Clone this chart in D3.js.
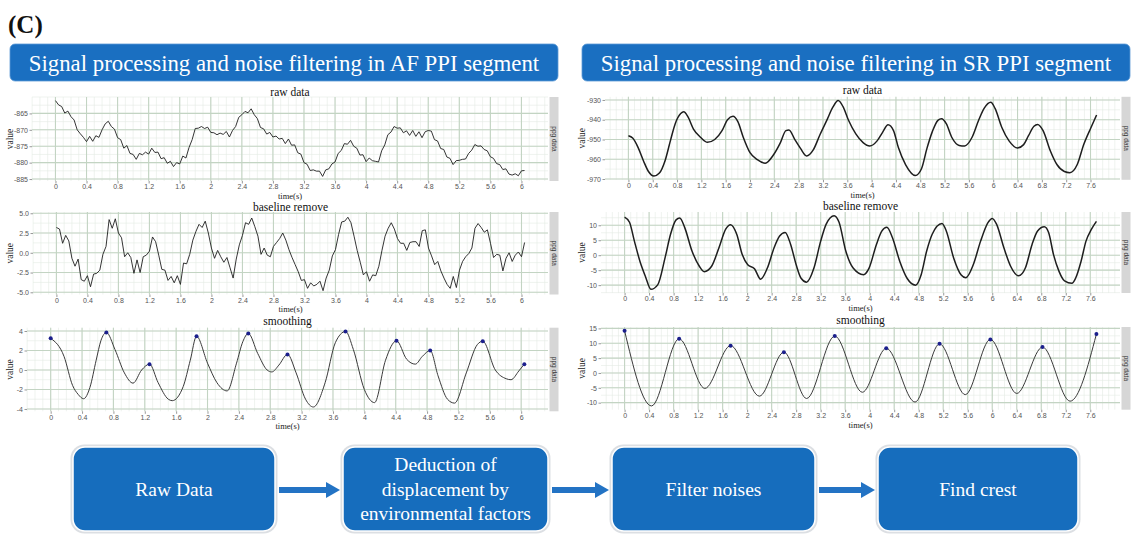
<!DOCTYPE html>
<html>
<head>
<meta charset="utf-8">
<script src="https://cdn.jsdelivr.net/npm/d3@7/dist/d3.min.js"></script>
<style>
  body { margin: 0; background: #fff; }
  svg { display: block; }
</style>
</head>
<body>
<svg id="fig" width="1136" height="538"></svg>
<script>
// ---------- data ----------
const headerTitles = [
  'Signal processing and noise filtering in AF PPI segment',
  'Signal processing and noise filtering in SR PPI segment'
];
const panelTitles = ['raw data', 'baseline remove', 'smoothing'];
const flowSteps = [
  ['Raw Data'],
  ['Deduction of', 'displacement by', 'environmental factors'],
  ['Filter noises'],
  ['Find crest']
];

// AF segment, sampled every 0.04 s
const AF_STEP = 0.04;
const afRaw = [
  -861.1, -862.4, -862.9, -864.9, -864.3, -866.0, -867.0, -870.0, -871.2, -872.3,
  -873.6, -872.0, -873.5, -871.8, -872.3, -870.0, -868.2, -867.4, -869.0, -869.8,
  -872.4, -873.0, -875.6, -874.8, -877.2, -877.5, -879.0, -877.2, -877.6, -876.8,
  -877.4, -875.6, -876.9, -876.8, -878.8, -878.5, -880.2, -879.6, -881.2, -880.0,
  -880.4, -878.0, -878.6, -875.4, -873.0, -869.6, -869.5, -869.0, -869.6, -869.2,
  -870.8, -870.9, -871.5, -871.0, -871.4, -870.5, -872.2, -870.2, -869.0, -866.2,
  -865.4, -864.4, -864.8, -863.6, -865.4, -866.6, -869.3, -869.7, -871.3, -870.8,
  -872.2, -871.9, -872.8, -872.6, -874.2, -872.8, -874.7, -874.6, -877.0, -877.4,
  -880.0, -880.5, -882.4, -882.2, -882.6, -882.6, -884.2, -882.2, -881.9, -880.4,
  -879.8, -877.2, -876.3, -874.2, -874.4, -873.2, -875.0, -875.6, -877.7, -877.6,
  -879.7, -878.6, -879.4, -879.6, -879.8, -876.4, -874.6, -871.5, -870.7, -869.0,
  -869.5, -869.4, -870.9, -870.3, -871.7, -870.2, -872.0, -870.6, -872.4, -870.6,
  -870.2, -870.4, -873.0, -873.4, -875.7, -876.0, -878.3, -878.7, -880.6, -879.4,
  -879.3, -879.0, -878.9, -877.2, -876.2, -874.5, -875.0, -874.9, -876.0, -876.4,
  -878.2, -878.7, -880.3, -880.6, -882.1, -881.9, -883.5, -883.8, -883.4, -884.0,
  -882.5, -882.4
];
const afBase = [
  3.2, 3.0, 1.2, 2.2, 1.5, -0.7, -1.7, -0.8, -3.4, -3.6,
  -2.9, -4.3, -2.7, -2.6, -2.2, -0.2, 0.8, 4.2, 3.1, 4.3,
  2.5, 1.9, -0.5, 0.0, -0.6, -2.6, -0.9, -2.5, -0.5, -0.3,
  0.2, 2.0, 1.4, -0.3, -2.1, -2.2, -3.5, -3.0, -3.8, -2.9,
  -4.0, -1.3, -1.4, -0.2, 1.6, 2.7, 3.6, 3.2, 4.0, 2.5,
  0.6, -0.7, 0.3, -0.5, -1.2, -0.6, -1.9, -3.2, -0.8, 1.0,
  2.2, 3.8, 3.6, 4.4, 3.3, 2.1, -0.2, 0.6, -0.3, -0.5,
  0.8, 1.3, 1.8, 2.5, 1.6, 0.4, -0.6, -1.5, -2.4, -3.5,
  -3.4, -4.5, -3.8, -4.2, -4.0, -3.6, -4.8, -3.2, -2.2, -0.4,
  0.4, 2.3, 3.9, 4.0, 4.5, 3.8, 2.1, 0.3, -1.2, -2.8,
  -2.4, -3.6, -2.8, -2.9, -1.7, 0.3, 2.1, 3.1, 3.8, 3.0,
  1.8, 1.2, 1.2, 0.3, 1.3, 1.4, 1.4, 0.8, 2.8, 2.9,
  0.6, -0.4, -1.5, -1.1, -2.3, -3.2, -4.0, -4.5, -3.0, -4.4,
  -2.2, -1.1, -0.5, -0.1, 0.6, 3.1, 3.7, 3.2, 2.6, 2.9,
  1.2, -0.6, -0.2, -0.3, -2.3, -0.7, 0.0, -1.1, -0.3, 0.1,
  -0.5, 1.3
];
// [time, value]
const afSmooth = [
  [0, 3.25], [0.17, 1.4], [0.28, -1.6], [0.35, -2.5], [0.42, -2.95], [0.5, -1.8],
  [0.58, 1.0], [0.64, 3.0], [0.71, 3.85], [0.82, 2.1], [0.94, -0.3], [1.05, -1.35],
  [1.16, 0.0], [1.26, 0.6], [1.37, -1.3], [1.5, -3.0], [1.55, -3.15], [1.69, -1.7],
  [1.78, 1.0], [1.86, 3.45], [2.0, 0.7], [2.12, -1.3], [2.25, -2.15], [2.37, 0.7],
  [2.45, 2.9], [2.52, 3.75], [2.64, 1.7], [2.76, 0.0], [2.82, -0.2], [2.91, 0.5],
  [3.02, 1.6], [3.13, -0.3], [3.25, -3.0], [3.35, -3.8], [3.5, -1.3], [3.63, 2.8],
  [3.76, 3.95], [3.86, 2.1], [4.0, -2.0], [4.13, -3.35], [4.27, 1.0], [4.41, 3.0],
  [4.54, 1.1], [4.65, 0.6], [4.74, 1.4], [4.84, 2.0], [4.94, -0.6], [5.06, -3.0],
  [5.15, -3.4], [5.3, -0.3], [5.44, 2.6], [5.51, 2.95], [5.67, 0.0], [5.81, -0.9],
  [5.87, -1.0], [5.97, -0.1], [6.04, 0.6]
];
const afCrest = [
  [0, 3.25], [0.71, 3.85], [1.26, 0.6], [1.86, 3.45], [2.52, 3.75], [3.02, 1.6],
  [3.76, 3.95], [4.41, 3.0], [4.84, 2.0], [5.51, 2.95], [6.04, 0.6]
];

// SR segment [time, value]
const srRaw = [
  [0, -948.1], [0.07, -949.3], [0.16, -954.1], [0.25, -961.0], [0.33, -966.2], [0.42, -968.5],
  [0.51, -967.0], [0.6, -961.0], [0.69, -950.7], [0.77, -942.0], [0.86, -936.9], [0.91, -936.0],
  [0.98, -938.6], [1.07, -944.7], [1.19, -949.0], [1.3, -951.4], [1.42, -950.0], [1.54, -945.5],
  [1.63, -940.0], [1.72, -938.3], [1.8, -941.0], [1.89, -949.0], [2.0, -956.7], [2.12, -960.2],
  [2.25, -962.0], [2.39, -957.6], [2.5, -951.6], [2.59, -945.5], [2.64, -945.2], [2.74, -950.2],
  [2.83, -954.5], [2.93, -958.3], [3.04, -955.3], [3.15, -947.6], [3.27, -939.8], [3.36, -933.8],
  [3.45, -930.3], [3.53, -933.4], [3.62, -940.3], [3.74, -947.2], [3.86, -951.6], [3.97, -953.3],
  [4.09, -950.7], [4.18, -946.4], [4.27, -942.6], [4.36, -945.5], [4.44, -954.1], [4.56, -962.8],
  [4.72, -968.2], [4.82, -964.8], [4.91, -954.5], [5.0, -945.9], [5.09, -940.3], [5.15, -939.5],
  [5.23, -942.1], [5.32, -949.0], [5.44, -953.0], [5.53, -953.3], [5.65, -949.0], [5.76, -940.3],
  [5.85, -934.3], [5.96, -931.2], [6.03, -934.3], [6.14, -943.8], [6.26, -950.7], [6.4, -954.3],
  [6.5, -952.6], [6.58, -948.1], [6.67, -943.3], [6.73, -942.4], [6.82, -945.5], [6.94, -955.8],
  [7.05, -962.8], [7.17, -966.2], [7.26, -966.8], [7.38, -962.8], [7.49, -952.4], [7.61, -943.8],
  [7.7, -937.6]
];
const srBase = [
  [0, 12.7], [0.08, 11.0], [0.16, 4.7], [0.25, -2.0], [0.34, -7.1], [0.43, -11.4],
  [0.54, -9.9], [0.66, -0.9], [0.75, 7.0], [0.84, 11.8], [0.9, 12.4], [0.98, 9.3],
  [1.1, 1.4], [1.22, -3.7], [1.3, -5.5], [1.42, -3.7], [1.54, 2.5], [1.65, 8.7],
  [1.73, 10.2], [1.83, 7.0], [1.92, 0.2], [2.01, -3.2], [2.12, -4.5], [2.22, -8.0],
  [2.33, -4.3], [2.44, 2.5], [2.53, 6.4], [2.62, 7.6], [2.71, 3.6], [2.8, -3.2],
  [2.88, -7.7], [2.97, -9.0], [3.09, -4.3], [3.2, 4.7], [3.29, 10.4], [3.42, 13.2],
  [3.5, 11.0], [3.61, 1.4], [3.73, -4.3], [3.9, -6.5], [3.99, -4.3], [4.11, 3.6],
  [4.2, 8.1], [4.28, 9.3], [4.37, 5.9], [4.49, -2.0], [4.61, -7.7], [4.75, -10.0],
  [4.84, -6.5], [4.93, 1.4], [5.02, 7.0], [5.18, 10.6], [5.25, 8.1], [5.37, -0.9],
  [5.49, -6.5], [5.57, -7.5], [5.69, -3.2], [5.81, 4.7], [5.93, 10.9], [6.0, 12.3],
  [6.07, 10.4], [6.19, 2.5], [6.3, -3.7], [6.43, -6.9], [6.54, -4.3], [6.65, 3.6],
  [6.74, 8.1], [6.85, 9.5], [6.92, 7.6], [7.0, 0.2], [7.09, -5.4], [7.18, -8.6],
  [7.3, -9.4], [7.36, -7.7], [7.45, -2.0], [7.53, 4.7], [7.62, 8.7], [7.7, 11.3]
];
const srSmooth = [
  [0, 14.2], [0.44, -11.1], [0.89, 11.5], [1.31, -5.2], [1.73, 9.2], [2.2, -7.8],
  [2.6, 7.0], [2.97, -8.6], [3.43, 12.4], [3.88, -6.5], [4.27, 8.3], [4.74, -9.8],
  [5.14, 9.8], [5.56, -7.3], [5.97, 11.3], [6.4, -6.9], [6.82, 8.7], [7.27, -9.5],
  [7.7, 13.1]
];
const srCrest = [
  [0, 14.2], [0.89, 11.5], [1.73, 9.2], [2.6, 7.0], [3.43, 12.4], [4.27, 8.3],
  [5.14, 9.8], [5.97, 11.3], [6.82, 8.7], [7.7, 13.1]
];

// tick values
const afTicksX = [0, 0.4, 0.8, 1.2, 1.6, 2, 2.4, 2.8, 3.2, 3.6, 4, 4.4, 4.8, 5.2, 5.6, 6];
const srTicksX = [0, 0.4, 0.8, 1.2, 1.6, 2, 2.4, 2.8, 3.2, 3.6, 4, 4.4, 4.8, 5.2, 5.6, 6, 6.4, 6.8, 7.2, 7.6];
const afRawTicksY = [-885, -880, -875, -870, -865];
const afBaseTicksY = [-5, -2.5, 0, 2.5, 5];
const afSmoothTicksY = [-4, -2, 0, 2, 4];
const srRawTicksY = [-970, -960, -950, -940, -930];
const srBaseTicksY = [-10, -5, 0, 5, 10];
const srSmoothTicksY = [-10, -5, 0, 5, 10, 15];

// ---------- drawing ----------
const SERIF = "'Liberation Serif', 'Times New Roman', serif";
const SANS = "'Liberation Sans', Arial, sans-serif";
const BLUE = '#1a6fc1';

const svg = d3.select('#fig');

// panel label
svg.append('text')
    .attr('x', 8)
    .attr('y', 33)
    .attr('font-family', SERIF)
    .attr('font-weight', 'bold')
    .attr('font-size', '25px')
    .attr('fill', '#111')
    .text('(C)');

// section headers
const headerBoxes = [{ x0: 10, x1: 558 }, { x0: 582, x1: 1130 }];
headerBoxes.forEach((b, i) => {
    svg.append('rect')
        .attr('x', b.x0)
        .attr('y', 44)
        .attr('width', b.x1 - b.x0)
        .attr('height', 37)
        .attr('rx', 5)
        .attr('fill', BLUE)
        .attr('stroke', '#5e9bd6')
        .attr('stroke-width', 0.8);
    svg.append('text')
        .attr('x', (b.x0 + b.x1) / 2)
        .attr('y', 70.5)
        .attr('text-anchor', 'middle')
        .attr('font-family', SERIF)
        .attr('font-size', '22.8px')
        .attr('fill', '#fff')
        .text(headerTitles[i]);
});

function drawPanel(p) {
    const x = d3.scaleLinear().domain(p.xDomain).range([p.left, p.right]);
    const y = d3.scaleLinear().domain(p.yDomain).range([p.bottom, p.top]);
    const g = svg.append('g');

    g.append('rect')
        .attr('x', p.left)
        .attr('y', p.top)
        .attr('width', p.right - p.left)
        .attr('height', p.bottom - p.top)
        .attr('fill', '#fff');

    // minor grid
    const xs = (p.xTicks[1] - p.xTicks[0]) / 4;
    const xMinor = d3.range(Math.ceil(p.xDomain[0] / xs), Math.floor(p.xDomain[1] / xs) + 1)
        .map(k => k * xs);
    const ys = (p.yTicks[1] - p.yTicks[0]) / 2;
    const yMinor = d3.range(Math.ceil(p.yDomain[0] / ys), Math.floor(p.yDomain[1] / ys) + 1)
        .map(k => k * ys);

    g.selectAll('.minor-x')
        .data(xMinor)
        .join('line')
        .attr('x1', d => x(d)).attr('x2', d => x(d))
        .attr('y1', p.top).attr('y2', p.bottom)
        .attr('stroke', '#e4ebe4')
        .attr('stroke-width', 0.6);
    g.selectAll('.minor-y')
        .data(yMinor)
        .join('line')
        .attr('x1', p.left).attr('x2', p.right)
        .attr('y1', d => y(d)).attr('y2', d => y(d))
        .attr('stroke', '#e4ebe4')
        .attr('stroke-width', 0.6);

    // major grid
    g.selectAll('.major-x')
        .data(p.xTicks)
        .join('line')
        .attr('x1', d => x(d)).attr('x2', d => x(d))
        .attr('y1', p.top).attr('y2', p.bottom)
        .attr('stroke', '#c3d4c3')
        .attr('stroke-width', 1.1);
    g.selectAll('.major-y')
        .data(p.yTicks)
        .join('line')
        .attr('x1', p.left).attr('x2', p.right)
        .attr('y1', d => y(d)).attr('y2', d => y(d))
        .attr('stroke', '#c3d4c3')
        .attr('stroke-width', 1.1);

    // axes
    const xAxis = d3.axisBottom(x)
        .tickValues(p.xTicks)
        .tickFormat(d => String(d))
        .tickSize(2.5)
        .tickPadding(1);
    const xAxisGroup = g.append('g')
        .attr('transform', `translate(0, ${p.bottom})`)
        .call(xAxis);

    const yAxis = d3.axisLeft(y)
        .tickValues(p.yTicks)
        .tickFormat(p.yFormat)
        .tickSize(2.5)
        .tickPadding(1.5);
    const yAxisGroup = g.append('g')
        .attr('transform', `translate(${p.left}, 0)`)
        .call(yAxis);

    [xAxisGroup, yAxisGroup].forEach(a => {
        a.select('.domain').remove();
        a.selectAll('line').attr('stroke', '#999');
        a.selectAll('text')
            .attr('font-family', SANS)
            .attr('font-size', '7px')
            .attr('fill', '#555');
    });

    // strip on the right
    g.append('rect')
        .attr('x', p.right + 1.5)
        .attr('y', p.top)
        .attr('width', 9)
        .attr('height', p.bottom - p.top)
        .attr('fill', '#d6d6d6');
    g.append('text')
        .attr('transform', `translate(${p.right + 6}, ${(p.top + p.bottom) / 2}) rotate(90)`)
        .attr('text-anchor', 'middle')
        .attr('dy', '0.35em')
        .attr('font-family', SANS)
        .attr('font-size', '6.5px')
        .attr('fill', '#333')
        .text('ppg data');

    // titles
    g.append('text')
        .attr('x', (p.left + p.right) / 2)
        .attr('y', p.titleY)
        .attr('text-anchor', 'middle')
        .attr('font-family', SERIF)
        .attr('font-size', '11.5px')
        .attr('fill', '#111')
        .text(p.title);
    g.append('text')
        .attr('x', (p.left + p.right) / 2)
        .attr('y', p.bottom + 17.8)
        .attr('text-anchor', 'middle')
        .attr('font-family', SERIF)
        .attr('font-size', '8.5px')
        .attr('fill', '#222')
        .text('time(s)');
    g.append('text')
        .attr('transform', `translate(${p.yLabelX}, ${(p.top + p.bottom) / 2}) rotate(-90)`)
        .attr('text-anchor', 'middle')
        .attr('font-family', SERIF)
        .attr('font-size', '9.5px')
        .attr('fill', '#222')
        .text('value');

    // series
    const line = d3.line()
        .x(d => x(d[0]))
        .y(d => y(d[1]))
        .curve(p.curve);
    g.append('path')
        .datum(p.series)
        .attr('d', line)
        .attr('fill', 'none')
        .attr('stroke', p.stroke)
        .attr('stroke-width', p.strokeWidth)
        .attr('stroke-linejoin', 'round');

    if (p.crest) {
        g.selectAll('.crest')
            .data(p.crest)
            .join('circle')
            .attr('cx', d => x(d[0]))
            .attr('cy', d => y(d[1]))
            .attr('r', 2)
            .attr('fill', '#1b1f8c');
    }
}

const afXDomain = [-0.302, 6.342];
const srXDomain = [-0.385, 8.085];
const fmtInt = d => String(d);
const fmtOne = d => d.toFixed(1);

drawPanel({
    title: panelTitles[0], left: 32, right: 548, top: 97, bottom: 181,
    xDomain: afXDomain, yDomain: [-885.6, -860], xTicks: afTicksX, yTicks: afRawTicksY,
    yFormat: fmtInt, titleY: 95.5, yLabelX: 13,
    series: afRaw.map((v, i) => [i * AF_STEP, v]), curve: d3.curveLinear,
    stroke: '#1e1e1e', strokeWidth: 0.9
});
drawPanel({
    title: panelTitles[1], left: 33, right: 548, top: 212, bottom: 294.5,
    xDomain: afXDomain, yDomain: [-5.28, 5.16], xTicks: afTicksX, yTicks: afBaseTicksY,
    yFormat: fmtOne, titleY: 211.2, yLabelX: 13,
    series: afBase.map((v, i) => [i * AF_STEP, v]), curve: d3.curveLinear,
    stroke: '#1e1e1e', strokeWidth: 0.9
});
drawPanel({
    title: panelTitles[2], left: 27, right: 548, top: 327.7, bottom: 411.3,
    xDomain: afXDomain, yDomain: [-4.24, 4.34], xTicks: afTicksX, yTicks: afSmoothTicksY,
    yFormat: fmtInt, titleY: 324.5, yLabelX: 13,
    series: afSmooth, curve: d3.curveMonotoneX, crest: afCrest,
    stroke: '#3a3a3a', strokeWidth: 1
});
drawPanel({
    title: panelTitles[0], left: 605, right: 1120, top: 96.8, bottom: 179.8,
    xDomain: srXDomain, yDomain: [-970.4, -928.4], xTicks: srTicksX, yTicks: srRawTicksY,
    yFormat: fmtInt, titleY: 94, yLabelX: 585,
    series: srRaw, curve: d3.curveMonotoneX,
    stroke: '#1e1e1e', strokeWidth: 1.5
});
drawPanel({
    title: panelTitles[1], left: 601, right: 1120, top: 212, bottom: 293,
    xDomain: srXDomain, yDomain: [-12.63, 14.43], xTicks: srTicksX, yTicks: srBaseTicksY,
    yFormat: fmtInt, titleY: 209.8, yLabelX: 585,
    series: srBase, curve: d3.curveMonotoneX,
    stroke: '#1e1e1e', strokeWidth: 1.5
});
drawPanel({
    title: panelTitles[2], left: 601, right: 1120, top: 327, bottom: 409.7,
    xDomain: srXDomain, yDomain: [-12.37, 15.47], xTicks: srTicksX, yTicks: srSmoothTicksY,
    yFormat: fmtInt, titleY: 323.5, yLabelX: 585,
    series: srSmooth, curve: d3.curveMonotoneX, crest: srCrest,
    stroke: '#3a3a3a', strokeWidth: 1
});

// ---------- flow chart ----------
const flowBoxes = [
    { x0: 73, x1: 275 },
    { x0: 343, x1: 548 },
    { x0: 612, x1: 815 },
    { x0: 878, x1: 1078 }
];
const boxTop = 447, boxBottom = 531;

flowBoxes.forEach((b, i) => {
    svg.append('rect')
        .attr('x', b.x0 - 2.5)
        .attr('y', boxTop - 2.5)
        .attr('width', b.x1 - b.x0 + 5)
        .attr('height', boxBottom - boxTop + 5)
        .attr('rx', 14)
        .attr('fill', '#dcdfe3');
    svg.append('rect')
        .attr('x', b.x0)
        .attr('y', boxTop)
        .attr('width', b.x1 - b.x0)
        .attr('height', boxBottom - boxTop)
        .attr('rx', 12)
        .attr('fill', '#166dbd')
        .attr('stroke', '#fff')
        .attr('stroke-width', 1.5);

    const lines = flowSteps[i];
    const lineH = 24.5;
    const mid = (boxTop + boxBottom) / 2;
    svg.append('text')
        .attr('text-anchor', 'middle')
        .attr('font-family', SERIF)
        .attr('font-size', '19.5px')
        .attr('fill', '#fff')
        .selectAll('tspan')
        .data(lines)
        .join('tspan')
        .attr('x', (b.x0 + b.x1) / 2)
        .attr('y', (d, j) => mid + 6.5 + (j - (lines.length - 1) / 2) * lineH)
        .text(d => d);
});

// arrows between the boxes
const arrowY = 490;
flowBoxes.slice(0, -1).forEach((b, i) => {
    const xa = b.x1 + 4;
    const xb = flowBoxes[i + 1].x0 - 3;
    const head = 14;
    svg.append('path')
        .attr('d', `M${xa},${arrowY - 3} L${xb - head},${arrowY - 3} L${xb - head},${arrowY - 8}
                    L${xb},${arrowY} L${xb - head},${arrowY + 8} L${xb - head},${arrowY + 3}
                    L${xa},${arrowY + 3} Z`)
        .attr('fill', '#2373c4');
});
</script>
</body>
</html>
